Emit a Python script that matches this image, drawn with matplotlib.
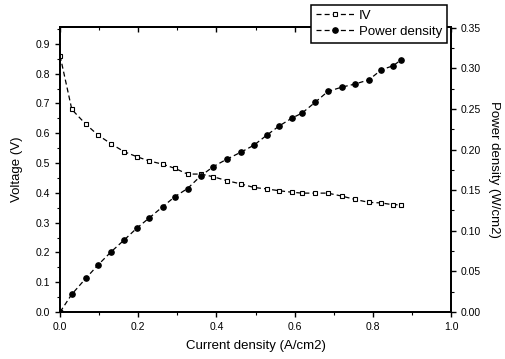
import matplotlib
matplotlib.use('Agg')
import matplotlib.pyplot as plt
from matplotlib.ticker import MultipleLocator

plt.rcParams.update({
    'font.family': 'Liberation Sans',
    'xtick.labelsize': 7.5,
    'ytick.labelsize': 7.5,
})

# ── Data ──
current = [0.0, 0.030, 0.066, 0.097, 0.131, 0.164, 0.197, 0.228, 0.263, 0.294,
           0.326, 0.360, 0.392, 0.426, 0.462, 0.496, 0.529, 0.561, 0.593, 0.619,
           0.653, 0.685, 0.721, 0.754, 0.790, 0.822, 0.852, 0.873]
voltage = [0.860, 0.680, 0.630, 0.594, 0.564, 0.538, 0.521, 0.507, 0.496, 0.482,
           0.463, 0.463, 0.454, 0.441, 0.430, 0.418, 0.413, 0.407, 0.402, 0.399,
           0.399, 0.399, 0.389, 0.378, 0.368, 0.366, 0.360, 0.360]
power = [0.0, 0.0218, 0.0415, 0.0579, 0.0743, 0.0887, 0.1035, 0.1158, 0.1298, 0.1421,
         0.1520, 0.1676, 0.1790, 0.1880, 0.1966, 0.2054, 0.2178, 0.2292, 0.2387, 0.2449,
         0.2584, 0.2715, 0.2769, 0.2806, 0.2859, 0.2982, 0.3032, 0.3106]

fig = plt.figure(figsize=(5.05, 3.59), dpi=100)
ax = fig.add_axes([0.119, 0.131, 0.774, 0.794])
ax2 = ax.twinx()

l1, = ax.plot(current, voltage, 'k--', marker='s', ms=3.4, mfc='white', mec='black',
              mew=0.8, lw=0.9, dashes=(4, 2.5), label='IV')
l2, = ax2.plot(current, power, 'k--', marker='o', ms=3.8, mfc='black', mec='black',
               lw=0.9, dashes=(4, 2.5), label='Power density')

ax.set_xlim(0, 1.0)
ax.set_ylim(0, 0.957)
ax2.set_ylim(0, 0.351)

ax.xaxis.set_major_locator(MultipleLocator(0.2))
ax.xaxis.set_minor_locator(MultipleLocator(0.1))
ax.yaxis.set_major_locator(MultipleLocator(0.1))
ax.yaxis.set_minor_locator(MultipleLocator(0.05))
ax2.yaxis.set_major_locator(MultipleLocator(0.05))
ax2.yaxis.set_minor_locator(MultipleLocator(0.025))
ax.xaxis.set_major_formatter(plt.FormatStrFormatter('%.1f'))
ax.yaxis.set_major_formatter(plt.FormatStrFormatter('%.1f'))
ax2.yaxis.set_major_formatter(plt.FormatStrFormatter('%.2f'))

# bottom ticks point out, top ticks point in
ax.tick_params(axis='x', which='major', direction='out', length=3.5, width=1)
ax.tick_params(axis='x', which='minor', direction='out', length=2, width=0.8)
top = ax.secondary_xaxis('top')
top.xaxis.set_major_locator(MultipleLocator(0.2))
top.xaxis.set_minor_locator(MultipleLocator(0.1))
top.tick_params(which='major', direction='in', length=3.5, width=1, labeltop=False)
top.tick_params(which='minor', direction='in', length=2, width=0.8)
top.spines['top'].set_linewidth(1.3)

ax.tick_params(axis='y', which='major', direction='out', length=3.5, width=1)
ax.tick_params(axis='y', which='minor', direction='out', length=2, width=0.8)
ax2.tick_params(axis='y', which='major', direction='out', length=3.5, width=1)
ax2.tick_params(axis='y', which='minor', direction='out', length=2, width=0.8)
for sp in ax.spines.values():
    sp.set_linewidth(1.3)
for sp in ax2.spines.values():
    sp.set_linewidth(1.3)

ax.set_xlabel('Current density (A/cm2)', fontsize=9.5, labelpad=6)
ax.set_ylabel('Voltage (V)', fontsize=9.5, labelpad=9)
ax2.set_ylabel('Power density (W/cm2)', fontsize=9.5, rotation=270, labelpad=14)

leg = ax2.legend(handles=[l1, l2], loc='upper right', bbox_to_anchor=(0.99, 1.077),
                 fontsize=9.5, frameon=True, fancybox=False, edgecolor='black',
                 handlelength=2.9, handletextpad=0.4, borderpad=0.35,
                 labelspacing=0.3, borderaxespad=0)
leg.get_frame().set_linewidth(1.1)
leg.get_frame().set_alpha(1)

fig.savefig('out.png', dpi=100, facecolor='white')
